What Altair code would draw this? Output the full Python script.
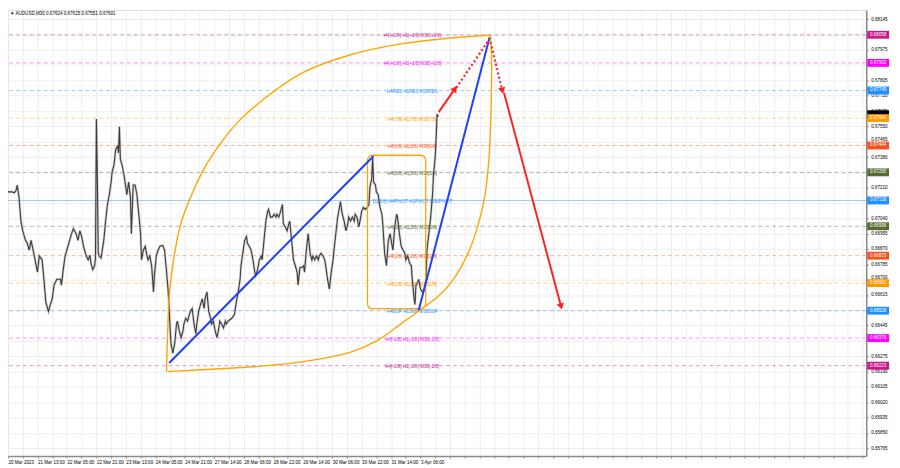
import altair as alt
import pandas as pd
import numpy as np

# ---------------- data ----------------
bars = [0,4,7,9,10,12,14,16,19,21,23,25,28,30,32,34,37,39,41,43,44,46,48,50,53,57,58,60,62,66,69,71,74,76,78,80,82,85,87,89,90,92,94,95,96,97,98,99,101,103,104,106,108,110,112,113,115,117,119,120,121,122,124,126,128,129,131,133,134,135,136,138,140,142,144,145,147,149,151,152,154,156,158,159,
        161,163,165,168,170,172,174,175,176,177,179,181,183,184,186,188,190,191,193,195,197,198,200,202,204,205,207,209,211,213,214,216,218,220,221,223,225,227,229,230,232,234,236,237,239,243,246,248,250,252,253,255,257,259,260,262,264,266,268,269,271,273,275,276,278,280,282,283,285,287,289,291,292,294,296,298,299,301,303,305,306,308,310,312,314,315,317,319,
        321,322,324,326,328,330,331,333,335,337,338,340,342,344,345,347,349,351,353,354,356,358,360,361,363,365,367,369,370,372,374,376,377,379,381,383,384,386,388,390,392,393,395,396,397,399,400,402,404,406,407,409,411,413,415,416,418,420,422,423,425,427,429,431,432,434,436,438,439,441,442,443,445,446,448,450,452,454,455,457,459,461,462,464,465,466,467]
prices = [0.67187,0.67187,0.67182,0.67198,0.67225,0.67155,0.67025,0.66971,0.66918,0.66901,0.66864,0.66918,0.66847,0.66793,0.66742,0.66831,0.66810,0.66702,0.66578,0.66540,0.66524,0.66562,0.66594,0.66670,0.66702,0.66702,0.66670,0.66756,0.66831,0.66901,0.66955,0.66982,0.66955,0.66918,0.66971,0.66939,0.66885,0.66831,0.66810,0.66836,0.66793,0.66756,0.66777,0.66820,0.67591,0.67268,0.66847,0.66831,0.66820,0.66885,0.66918,0.67025,0.67117,0.67171,0.67241,0.67295,0.67333,0.67424,0.67440,0.67403,0.67548,0.67370,0.67333,0.67279,0.67209,0.67171,0.67241,0.67155,0.66955,0.67101,0.67225,0.67225,0.67171,0.67063,0.66955,0.66810,0.66864,0.66885,0.66831,0.66810,0.66831,0.66777,0.66632,0.66724,
          0.66831,0.66864,0.66885,0.66890,0.66864,0.66756,0.66632,0.66540,0.66432,0.66346,0.66292,0.66346,0.66454,0.66470,0.66416,0.66378,0.66416,0.66454,0.66486,0.66470,0.66508,0.66524,0.66540,0.66454,0.66400,0.66454,0.66524,0.66562,0.66594,0.66540,0.66594,0.66632,0.66524,0.66486,0.66454,0.66470,0.66416,0.66378,0.66432,0.66470,0.66454,0.66432,0.66470,0.66454,0.66470,0.66486,0.66508,0.66578,0.66632,0.66702,0.66777,0.66847,0.66918,0.66939,0.66901,0.66885,0.66864,0.66810,0.66742,0.66724,0.66756,0.66810,0.66831,0.66810,0.66918,0.67025,0.67079,0.67090,0.67047,0.67047,0.67063,0.67047,0.67063,0.67047,0.67079,0.67117,0.67009,0.66993,0.66971,0.67009,0.67025,0.66918,0.66810,0.66777,0.66742,0.66670,0.66767,0.66767,
          0.66777,0.66742,0.66864,0.66955,0.66847,0.66810,0.66831,0.66810,0.66831,0.66810,0.66831,0.66847,0.66831,0.66810,0.66777,0.66702,0.66648,0.66742,0.66810,0.66864,0.66955,0.67047,0.67101,0.67133,0.67063,0.67025,0.66971,0.67009,0.67047,0.67025,0.67047,0.67025,0.67063,0.67047,0.66993,0.67047,0.67079,0.67101,0.67090,0.67101,0.67117,0.67209,0.67263,0.67376,0.67241,0.67225,0.67187,0.67171,0.67101,0.67063,0.67009,0.66847,0.66777,0.66918,0.66955,0.66918,0.66864,0.66993,0.67063,0.67047,0.66955,0.66885,0.66864,0.66847,0.66810,0.66831,0.66793,0.66777,0.66702,0.66594,0.66562,0.66670,0.66686,0.66702,0.66648,0.66632,0.66648,0.66702,0.66864,0.66955,0.67047,0.67171,0.67279,0.67386,0.67494,0.67618,0.67601]

x_labels = ["20 Mar 2023", "21 Mar 13:00", "22 Mar 05:00", "22 Mar 21:00", "23 Mar 13:00",
            "24 Mar 05:00", "24 Mar 21:00", "27 Mar 14:00", "28 Mar 06:00", "28 Mar 22:00",
            "29 Mar 14:00", "30 Mar 06:00", "30 Mar 22:00", "31 Mar 14:00", "3 Apr 06:00"]
y_ticks = [0.68145, 0.68060, 0.67975, 0.67890, 0.67805, 0.67720, 0.67635, 0.67550, 0.67465,
           0.67380, 0.67295, 0.67210, 0.67125, 0.67040, 0.66955, 0.66870, 0.66785, 0.66700,
           0.66615, 0.66530, 0.66445, 0.66360, 0.66275, 0.66190, 0.66105, 0.66020, 0.65935,
           0.65850, 0.65765]

level_values = [0.68058, 0.67902, 0.67749, 0.67596, 0.67444, 0.67295, 0.67139,
                0.66996, 0.66833, 0.66681, 0.66528, 0.66376, 0.66223]
level_names = ["H4[+2/8] H1[+2/8] M30[+2/8]", "H4[+1/8] H1[+1/8] M30[+1/8]", "H4RES H1RES M30RES",
               "H4[7/8] H1[7/8] M30[7/8]", "H4[6/8] H1[6/8] M30[6/8]", "H4[5/8] H1[5/8] M30[5/8]",
               "D1[5/8] H4PIVOT H1PIVOT M30PIVOT", "H4[3/8] H1[3/8] M30[3/8]", "H4[2/8] H1[2/8] M30[2/8]",
               "H4[1/8] H1[1/8] M30[1/8]", "H4SUP H1SUP M30SUP", "H4[-1/8] H1[-1/8] M30[-1/8]",
               "H4[-2/8] H1[-2/8] M30[-2/8]"]
level_colors = ["#C8188C", "#FF00FF", "#1E90FF", "#FF9900", "#F4511E", "#556B2F", "#1E90FF",
                "#556B2F", "#F4511E", "#FF9900", "#1E90FF", "#FF00FF", "#C8188C"]
level_dashed = [True, True, True, True, True, True, False, True, True, True, True, True, True]
bid_price = 0.67601

upper_curve_bars = [172.2, 172.7, 173.8, 175.4, 181, 187, 195, 213, 231, 252, 280, 319, 372, 425, 478, 524]
upper_curve_prices = [0.66190, 0.66308, 0.66470, 0.66632, 0.66847, 0.66998, 0.67117, 0.67316,
                      0.67457, 0.67586, 0.67710, 0.67845, 0.67947, 0.68006, 0.68039, 0.68055]
lower_curve_bars = [173.3, 230.7, 265.8, 318.9, 372, 400.8, 425.2, 449.6, 467.7, 481.5, 499.6,
                    510.2, 517.7, 522.5, 524.6, 525.1, 524]
lower_curve_prices = [0.66190, 0.66206, 0.66217, 0.66244, 0.66298, 0.66362, 0.66449, 0.66540,
                      0.66610, 0.66686, 0.66847, 0.66998, 0.67160, 0.67386, 0.67656, 0.67926, 0.68055]

box_bars = [390.4, 453.6]
box_prices = [0.66539, 0.67390]

blue_bar_start = [175, 446]
blue_bar_end = [397, 523]
blue_price_start = [0.66238, 0.66530]
blue_price_end = [0.67386, 0.68044]

red_solid_bar_start = [467.7, 538.6]
red_solid_bar_end = [485.5, 600.6]
red_solid_price_start = [0.67629, 0.67737]
red_solid_price_end = [0.67759, 0.66551]

red_dot_bar_start = [486.9, 524.0]
red_dot_bar_end = [522.7, 536.8]
red_dot_price_start = [0.67764, 0.68017]
red_dot_price_end = [0.68033, 0.67748]

title_text = "\u25BC AUDUSD,M30  0.67624 0.67625 0.67551 0.67601"

# ---------------- layout ----------------
W, H = 866, 450
X_DOM = [0, 932]
Y_DOM = [0.65722, 0.68195]
FONT = "Liberation Sans"
FS = 4.6

lab_arr = "[" + ",".join("'" + s + "'" for s in x_labels) + "]"
label_expr = (f"(datum.value % 32 == 0 && datum.value / 32 < {len(x_labels)}) ? "
              f"{lab_arr}[datum.value / 32] : ''")

# price scale labels that sit under a level box are covered in the reference
hidden = [t for t in y_ticks if min(abs(t - v) for v in level_values) < 0.00017]
hid_arr = "[" + ",".join(f"{t:.5f}" for t in hidden) + "]"
y_label_expr = f"indexof({hid_arr}, toNumber(format(datum.value, '.5f'))) >= 0 ? '' : datum.label"
# labels just beside a box are nudged away from it
near = [(t, min(level_values, key=lambda v: abs(t - v))) for t in y_ticks]
nudge = [(t, -3 if t > v else 3) for t, v in near if 0.00017 <= abs(t - v) < 0.00026]
off_test = " || ".join(f"abs(datum.value - {t}) < 1e-7" for t, _ in nudge if _ < 0) or "false"
off_test2 = " || ".join(f"abs(datum.value - {t}) < 1e-7" for t, _ in nudge if _ > 0) or "false"
y_label_offset = {"expr": f"({off_test}) ? -2.5 : (({off_test2}) ? 2.5 : 0)"}

x_axis = alt.Axis(values=list(range(0, 929, 16)), labelExpr=label_expr, labelAlign="left",
                  labelFontSize=FS, labelFont=FONT, labelPadding=1.5, labelColor="#000",
                  tickSize=2, tickColor="#888", grid=True, gridColor="#e9e9e9", gridWidth=0.8,
                  domainColor="#8a8a8a", domainWidth=1.5, title=None, labelOverlap=False,
                  labelFlush=False)
y_axis = alt.Axis(orient="right", values=y_ticks, format=".5f", labelExpr=y_label_expr,
                  labelFontSize=FS, labelFont=FONT, labelOffset=y_label_offset,
                  labelColor="#000", tickSize=2, tickColor="#888", labelPadding=2.5, grid=True,
                  gridColor="#e9e9e9", gridWidth=0.8, domainColor="#8a8a8a", domainWidth=1.5,
                  title=None, labelOverlap=False)
xs = alt.Scale(domain=X_DOM, nice=False, zero=False)
ys = alt.Scale(domain=Y_DOM, nice=False, zero=False)


def X(f):
    return alt.X(f"{f}:Q", scale=xs, axis=x_axis)


def Y(f):
    return alt.Y(f"{f}:Q", scale=ys, axis=y_axis)


price_df = pd.DataFrame({"bar": bars, "price": prices})
lev_df = pd.DataFrame({"price": level_values, "name": level_names, "color": level_colors,
                       "dashed": level_dashed})
lev_df["label"] = lev_df["price"].map(lambda v: f"{v:.5f}")

curve_df = pd.concat([
    pd.DataFrame({"bar": upper_curve_bars, "price": upper_curve_prices, "c": "up",
                  "o": range(len(upper_curve_bars))}),
    pd.DataFrame({"bar": lower_curve_bars, "price": lower_curve_prices, "c": "low",
                  "o": range(len(lower_curve_bars))}),
])
box_df = pd.DataFrame({"bar": [box_bars[0]], "bar2": [box_bars[1]],
                       "price": [box_prices[0]], "price2": [box_prices[1]]})
blue_df = pd.DataFrame({"bar": blue_bar_start, "bar2": blue_bar_end,
                        "price": blue_price_start, "price2": blue_price_end})
red_solid_df = pd.DataFrame({"bar": red_solid_bar_start, "bar2": red_solid_bar_end,
                             "price": red_solid_price_start, "price2": red_solid_price_end})
red_dot_df = pd.DataFrame({"bar": red_dot_bar_start, "bar2": red_dot_bar_end,
                           "price": red_dot_price_start, "price2": red_dot_price_end})

# arrow heads at the end of the red segments, angle from on-screen direction
kx = W / (X_DOM[1] - X_DOM[0])
ky = H / (Y_DOM[1] - Y_DOM[0])
heads = pd.concat([red_solid_df, red_dot_df.iloc[[1]]])
dxp = (heads["bar2"] - heads["bar"]) * kx
dyp = -(heads["price2"] - heads["price"]) * ky
heads_df = pd.DataFrame({"bar": heads["bar2"].values, "price": heads["price2"].values,
                         "angle": (np.degrees(np.arctan2(dxp, -dyp)) % 360).values})

base_lines = alt.Chart(lev_df)
lev_dashed = base_lines.transform_filter("datum.dashed").mark_rule(
    strokeWidth=1, strokeDash=[4, 3], opacity=0.45).encode(
    y=Y("price"), color=alt.Color("color:N", scale=None))
lev_solid = base_lines.transform_filter("!datum.dashed").mark_rule(
    strokeWidth=1, opacity=0.45).encode(
    y=Y("price"), color=alt.Color("color:N", scale=None))
lev_text = base_lines.mark_text(fontSize=FS, font=FONT, align="center", baseline="middle",
                                dy=1.5, opacity=1).encode(
    x=alt.value(408), y=Y("price"), text="name:N", color=alt.Color("color:N", scale=None))

price_halo = alt.Chart(price_df).mark_line(color="#a8a8a8", strokeWidth=2.6, opacity=0.5).encode(
    x=X("bar"), y=Y("price"))
price_line = alt.Chart(price_df).mark_line(color="#3c3c3c", strokeWidth=1.1).encode(
    x=X("bar"), y=Y("price"))

curves = alt.Chart(curve_df).mark_line(color="#FFA500", strokeWidth=1.4,
                                       interpolate="catmull-rom").encode(
    x=X("bar"), y=Y("price"), detail="c:N", order="o:Q")
box = alt.Chart(box_df).mark_rect(fillOpacity=0, stroke="#FFA500", strokeWidth=1.3,
                                  cornerRadius=5).encode(
    x=X("bar"), x2="bar2:Q", y=Y("price"), y2="price2:Q")
blue = alt.Chart(blue_df).mark_rule(color="#1F3FFF", strokeWidth=2).encode(
    x=X("bar"), x2="bar2:Q", y=Y("price"), y2="price2:Q")
red_solid = alt.Chart(red_solid_df).mark_rule(color="#FF2222", strokeWidth=2).encode(
    x=X("bar"), x2="bar2:Q", y=Y("price"), y2="price2:Q")
red_dot = alt.Chart(red_dot_df).mark_rule(color="#FF2222", strokeWidth=2.2,
                                          strokeDash=[2, 2.5]).encode(
    x=X("bar"), x2="bar2:Q", y=Y("price"), y2="price2:Q")
red_heads = alt.Chart(heads_df).mark_point(shape="triangle-up", filled=True, size=55,
                                           color="#FF2222", opacity=1).encode(
    x=X("bar"), y=Y("price"), angle=alt.Angle("angle:Q", scale=None))

box_shape = "M-1,-0.36H1V0.36H-1Z"
bid_box = alt.Chart(pd.DataFrame({"price": [bid_price]})).mark_point(
    shape=box_shape, size=484, filled=True, color="#000000", opacity=1, yOffset=-3).encode(
    x=alt.value(W + 12), y=Y("price"))
val_boxes = base_lines.mark_point(shape=box_shape, size=484, filled=True, opacity=1).encode(
    x=alt.value(W + 12), y=Y("price"), color=alt.Color("color:N", scale=None))
val_text = base_lines.mark_text(fontSize=FS, font=FONT, color="white", align="center",
                                baseline="middle").encode(
    x=alt.value(W + 12), y=Y("price"), text="label:N")

title = alt.Chart(pd.DataFrame({"t": [title_text]})).mark_text(
    fontSize=FS, font=FONT, align="left", baseline="middle", color="#000").encode(
    x=alt.value(2), y=alt.value(4), text="t:N")

chart = alt.layer(
    lev_dashed, lev_solid, lev_text, price_halo, price_line, curves, box, blue,
    red_solid, red_dot, red_heads, bid_box, val_boxes, val_text, title
).properties(
    width=W, height=H, autosize=alt.AutoSizeParams(type="none"),
    padding={"left": 0, "top": 0, "right": 26, "bottom": 10},
).configure_view(stroke="#a0a0a0", strokeWidth=1).configure(background="white")

chart.save("out.html", embed_options={"renderer": "svg", "actions": False})
